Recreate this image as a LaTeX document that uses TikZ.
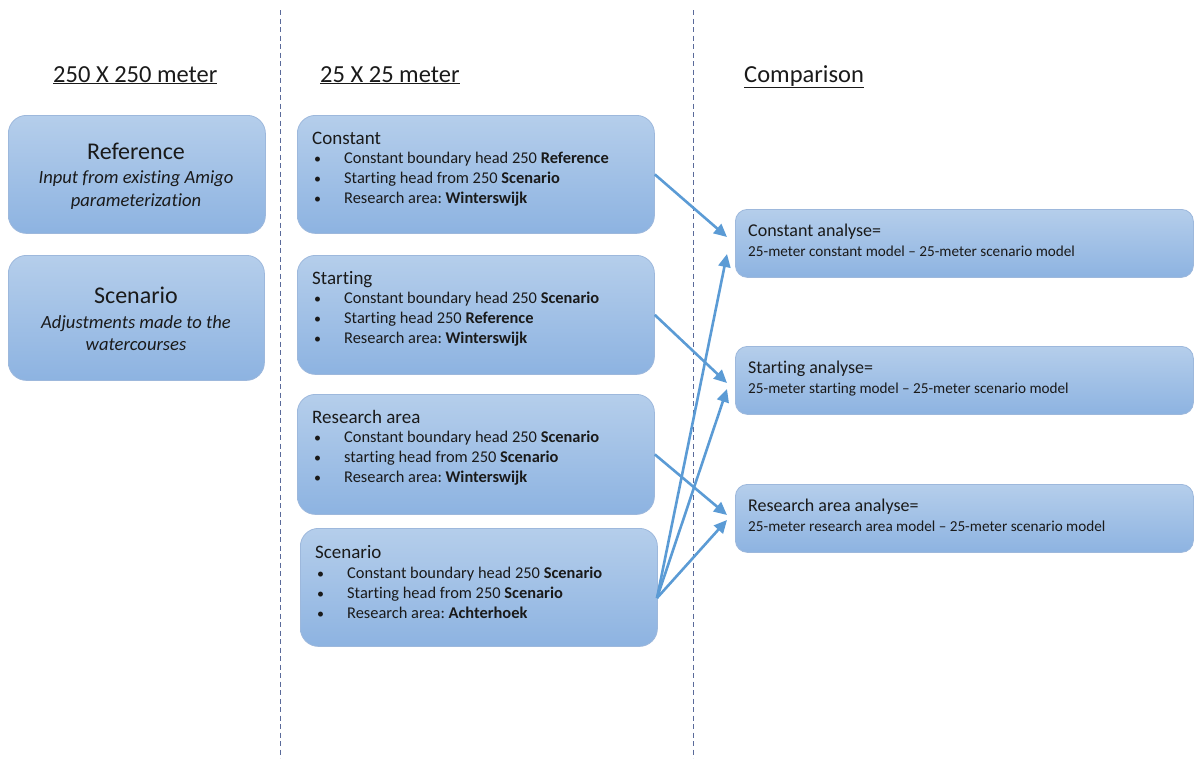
\documentclass[tikz,border=0pt]{standalone}
\usepackage{fontspec}
\setmainfont[Ligatures=NoCommon]{Carlito}
\frenchspacing
\usetikzlibrary{arrows.meta}
\definecolor{boxtop}{HTML}{B5CEEB}
\definecolor{boxbot}{HTML}{8DB3E1}
\definecolor{boxline}{HTML}{9DB8DC}
\definecolor{arrowc}{HTML}{5B9BD5}
\definecolor{dashc}{HTML}{5A6A9A}
\definecolor{txt}{HTML}{1A1A1A}
\tikzset{
  box/.style={draw=boxline, line width=0.8pt, top color=boxtop, bottom color=boxbot,
    rounded corners=18pt, anchor=north west, inner sep=0pt},
  rbox/.style={box, rounded corners=12pt},
  lbl/.style={anchor=base west, inner sep=0pt, text=txt},
  clbl/.style={anchor=base, inner sep=0pt, text=txt},
  head/.style={lbl, font=\fontsize{24.5}{28}\selectfont},
  ltitle/.style={clbl, font=\fontsize{24}{28}\selectfont},
  lital/.style={clbl, font=\fontsize{18.6}{22}\selectfont\itshape},
  mtitle/.style={lbl, font=\fontsize{19}{22}\selectfont},
  body/.style={lbl, font=\fontsize{16.4}{19}\selectfont},
  bul/.style={lbl, font=\fontsize{14}{19}\selectfont},
  rtitle/.style={lbl, font=\fontsize{18}{21}\selectfont},
  rbody/.style={lbl, font=\fontsize{15.2}{18}\selectfont},
  conn/.style={draw=arrowc, line width=2.6pt, -{Triangle[length=13pt,width=12pt]}},
  divider/.style={draw=dashc, line width=0.9pt, dash pattern=on 5pt off 3.5pt}
}
\begin{document}
\begin{tikzpicture}[x=1pt,y=-1pt]
\useasboundingbox (0,0) rectangle (1194,758);
% dividers
\coordinate (d1t) at (280,10); \coordinate (d1b) at (280,758);
\coordinate (d2t) at (693,10); \coordinate (d2b) at (693,758);
\draw[divider] (d1t) -- (d1b);
\draw[divider] (d2t) -- (d2b);
% headings
\node[head] (h1) at (53,82) {\underline{250 X 250 meter}};
\node[head] (h2) at (320,82) {\underline{25 X 25 meter}};
\node[head] (h3) at (744,82) {\underline{Comparison}};
% left boxes
\node[box, minimum width=257pt, minimum height=118pt] (ref) at (8,115) {};
\node[ltitle] (reft) at (136,159) {Reference};
\node[lital] (refa) at (136,183) {Input from existing Amigo};
\node[lital] (refb) at (136,206) {parameterization};
\node[box, minimum width=256pt, minimum height=125pt] (scn) at (8,255) {};
\node[ltitle] (scnt) at (136,303) {Scenario};
\node[lital] (scna) at (136,328) {Adjustments made to the};
\node[lital] (scnb) at (136,350) {watercourses};
% middle boxes
\node[box, minimum width=357pt, minimum height=118pt] (c1) at (297,115) {};
\node[mtitle] (c1t) at (312,144) {Constant};
\node[bul] (c1b1) at (314,163) {•};
\node[body] (c1a) at (344,163) {Constant boundary head 250 \textbf{Reference}};
\node[bul] (c1b2) at (314,183) {•};
\node[body] (c1c) at (344,183) {Starting head from 250 \textbf{Scenario}};
\node[bul] (c1b3) at (314,203) {•};
\node[body] (c1d) at (344,203) {Research area: \textbf{Winterswijk}};

\node[box, minimum width=357pt, minimum height=119pt] (c2) at (297,255) {};
\node[mtitle] (c2t) at (312,284) {Starting};
\node[bul] (c2b1) at (314,303) {•};
\node[body] (c2a) at (344,303) {Constant boundary head 250 \textbf{Scenario}};
\node[bul] (c2b2) at (314,323) {•};
\node[body] (c2c) at (344,323) {Starting head 250 \textbf{Reference}};
\node[bul] (c2b3) at (314,343) {•};
\node[body] (c2d) at (344,343) {Research area: \textbf{Winterswijk}};

\node[box, minimum width=357pt, minimum height=120pt] (c3) at (297,394) {};
\node[mtitle] (c3t) at (312,423) {Research area};
\node[bul] (c3b1) at (314,442) {•};
\node[body] (c3a) at (344,442) {Constant boundary head 250 \textbf{Scenario}};
\node[bul] (c3b2) at (314,462) {•};
\node[body] (c3c) at (344,462) {starting head from 250 \textbf{Scenario}};
\node[bul] (c3b3) at (314,482) {•};
\node[body] (c3d) at (344,482) {Research area: \textbf{Winterswijk}};

\node[box, minimum width=357pt, minimum height=118pt] (c4) at (300,528) {};
\node[mtitle] (c4t) at (315,558) {Scenario};
\node[bul] (c4b1) at (317,578) {•};
\node[body] (c4a) at (347,578) {Constant boundary head 250 \textbf{Scenario}};
\node[bul] (c4b2) at (317,598) {•};
\node[body] (c4c) at (347,598) {Starting head from 250 \textbf{Scenario}};
\node[bul] (c4b3) at (317,618) {•};
\node[body] (c4d) at (347,618) {Research area: \textbf{Achterhoek}};
% right boxes
\node[rbox, minimum width=458pt, minimum height=68pt] (r1) at (735,209) {};
\node[rtitle] (r1t) at (748,236) {Constant analyse=};
\node[rbody] (r1a) at (748,256) {25-meter constant model -- 25-meter scenario model};
\node[rbox, minimum width=458pt, minimum height=68pt] (r2) at (735,346) {};
\node[rtitle] (r2t) at (748,373) {Starting analyse=};
\node[rbody] (r2a) at (748,393) {25-meter starting model -- 25-meter scenario model};
\node[rbox, minimum width=458pt, minimum height=68pt] (r3) at (735,484) {};
\node[rtitle] (r3t) at (748,511) {Research area analyse=};
\node[rbody] (r3a) at (748,531) {25-meter research area model -- 25-meter scenario model};
% connector ends
\coordinate (s4) at (657,598);
\coordinate (t1a) at (727,237);
\coordinate (t1b) at (727,254);
\coordinate (t2a) at (727,383);
\coordinate (t2b) at (727,389);
\coordinate (t3a) at (727,515);
\coordinate (t3b) at (727,520);
\draw[conn] (c1.east) -- (t1a);
\draw[conn] (c2.east) -- (t2a);
\draw[conn] (c3.east) -- (t3a);
\draw[conn] (s4) -- (t1b);
\draw[conn] (s4) -- (t2b);
\draw[conn] (s4) -- (t3b);
\end{tikzpicture}
\end{document}
